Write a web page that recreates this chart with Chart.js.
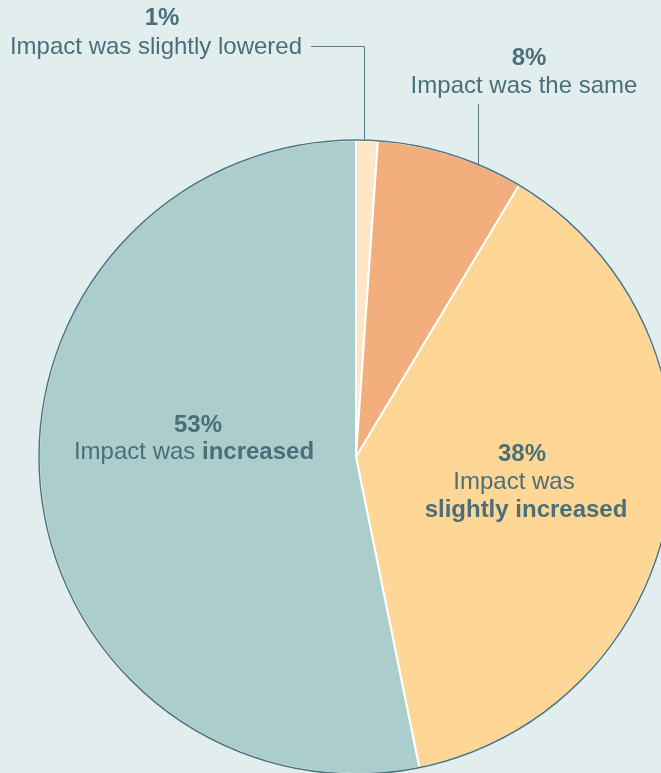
<!DOCTYPE html>
<html>
<head>
<meta charset="utf-8">
<script src="https://cdn.jsdelivr.net/npm/chart.js@4"></script>
<style>
  html, body { margin: 0; padding: 0; background: #e2eeee; overflow: hidden; width: 661px; height: 773px; }
  #grafica { position: absolute; left: 0; top: 0; }
</style>
</head>
<body>
<canvas id="grafica" width="700" height="800"></canvas>
<script>
// datos del grafico
let categorias = ['Impact was slightly lowered', 'Impact was the same', 'Impact was slightly increased', 'Impact was increased'];
let valores = [1.1, 7.5, 38.2, 53.2];
let etiquetasPct = ['1%', '8%', '38%', '53%'];
let colores = ['#fee6c6', '#f2ae7c', '#fed696', '#abcdcc'];

const colorTexto = '#4b6f79';
const fuente = 'Liberation Sans, Arial, sans-serif';
const tam = 24;

// contorno oscuro del circulo
const bordeExterior = {
  id: 'bordeExterior',
  afterDatasetsDraw(chart) {
    const arc = chart.getDatasetMeta(0).data[0];
    const ctx = chart.ctx;
    ctx.save();
    ctx.beginPath();
    ctx.arc(arc.x, arc.y, arc.outerRadius, 0, Math.PI * 2);
    ctx.strokeStyle = '#4d7580';
    ctx.lineWidth = 1.5;
    ctx.stroke();
    ctx.restore();
  }
};

// texto con partes normales y en negrita, centrado
function textoMixto(ctx, partes, x, y, size) {
  let total = 0;
  partes.forEach(p => {
    ctx.font = (p.b ? 'bold ' : '') + size + 'px ' + fuente;
    p.w = ctx.measureText(p.t).width;
    total += p.w;
  });
  let cx = x - total / 2;
  partes.forEach(p => {
    ctx.font = (p.b ? 'bold ' : '') + size + 'px ' + fuente;
    ctx.textAlign = 'left';
    ctx.fillText(p.t, cx, y);
    cx += p.w;
  });
}

// etiquetas y lineas guia
const etiquetas = {
  id: 'etiquetas',
  afterDraw(chart) {
    const arc = chart.getDatasetMeta(0).data[0];
    const cx = arc.x, cy = arc.y, r = arc.outerRadius;
    const ctx = chart.ctx;
    const normal = tam + 'px ' + fuente;
    const negrita = 'bold ' + tam + 'px ' + fuente;
    ctx.save();
    ctx.fillStyle = colorTexto;
    ctx.textBaseline = 'middle';

    // 1%
    ctx.textAlign = 'center';
    ctx.font = negrita;
    ctx.fillText(etiquetasPct[0], cx - 194, 18);
    ctx.font = normal;
    ctx.fillText(categorias[0], cx - 200, 47);
    let x1 = cx + 8;
    ctx.strokeStyle = '#5a7d86';
    ctx.lineWidth = 1;
    ctx.beginPath();
    ctx.moveTo(cx - 45, 46.5);
    ctx.lineTo(x1 + 0.5, 46.5);
    ctx.lineTo(x1 + 0.5, cy - Math.sqrt(r * r - 64));
    ctx.stroke();

    // 8%
    ctx.font = negrita;
    ctx.fillText(etiquetasPct[1], cx + 173, 58);
    ctx.font = normal;
    ctx.fillText(categorias[1], cx + 168, 86);
    let x2 = cx + 122;
    ctx.beginPath();
    ctx.moveTo(x2 + 0.5, 104);
    ctx.lineTo(x2 + 0.5, cy - Math.sqrt(r * r - 122 * 122));
    ctx.stroke();

    // 38%
    ctx.font = negrita;
    ctx.fillText(etiquetasPct[2], cx + 166, cy - 3);
    ctx.font = normal;
    ctx.fillText('Impact was', cx + 158, cy + 25);
    ctx.font = negrita;
    ctx.fillText('slightly increased', cx + 170, cy + 53);

    // 53%
    ctx.font = negrita;
    ctx.fillText(etiquetasPct[3], cx - 158, cy - 32);
    textoMixto(ctx, [{ t: 'Impact was ', b: false }, { t: 'increased', b: true }], cx - 162, cy - 5, tam);

    ctx.restore();
  }
};

const ctx = document.getElementById('grafica').getContext('2d');
const chart = new Chart(ctx, {
  type: 'pie',
  data: {
    labels: categorias,
    datasets: [{
      data: valores,
      backgroundColor: colores,
      borderColor: '#ffffff',
      borderWidth: 2
    }]
  },
  options: {
    responsive: false,
    animation: false,
    devicePixelRatio: 1,
    layout: {
      padding: { left: 38, top: 139, right: 26, bottom: 25 }
    },
    plugins: {
      legend: { display: false },
      tooltip: { enabled: false }
    }
  },
  plugins: [bordeExterior, etiquetas]
});
</script>
</body>
</html>
